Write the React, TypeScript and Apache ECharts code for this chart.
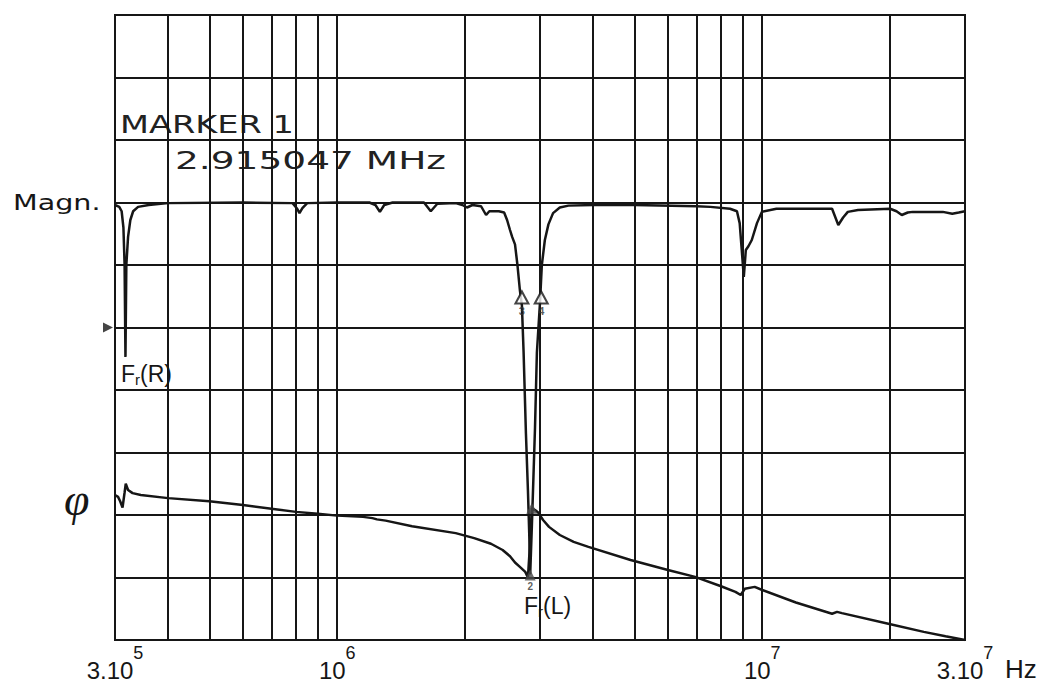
import React, { useEffect, useRef } from 'react';
import * as echarts from 'echarts';

const X_MIN = 3e5;
const X_MAX = 3e7;
const Y_MIN = 0;
const Y_MAX = 10;

const GRID_FREQS = [4e5, 5e5, 6e5, 7e5, 8e5, 9e5, 2e6, 3e6, 4e6, 5e6, 6e6, 7e6, 8e6, 9e6, 2e7];
const TICK_VALUES = [3e5, 1e6, 1e7, 3e7];
const TICK_BASES = ['3.10', '10', '10', '3.10'];
const TICK_EXPS = ['5', '6', '7', '7'];

const MAG_FREQS = [
  3.0e5, 3.07e5, 3.11e5, 3.14e5, 3.16e5, 3.175e5, 3.19e5, 3.22e5, 3.26e5, 3.31e5, 3.4e5, 3.6e5,
  4.0e5, 6.0e5, 7.85e5, 8.05e5, 8.15e5, 8.28e5, 8.5e5, 1.0e6, 1.19e6, 1.23e6, 1.26e6, 1.29e6,
  1.35e6, 1.6e6, 1.66e6, 1.72e6, 1.9e6, 1.97e6, 2.02e6, 2.08e6, 2.18e6, 2.24e6, 2.28e6, 2.4e6,
  2.47e6, 2.51e6, 2.55e6, 2.58e6, 2.62e6, 2.655e6, 2.69e6, 2.72e6, 2.745e6, 2.78e6, 2.81e6,
  2.83e6, 2.845e6, 2.87e6, 2.895e6, 2.92e6, 2.95e6, 3.0e6, 3.03e6, 3.08e6, 3.14e6, 3.22e6,
  3.34e6, 3.5e6, 4.0e6, 5.0e6, 7.0e6, 7.55e6, 8.4e6, 8.72e6, 8.85e6, 8.95e6, 9.05e6, 9.15e6,
  9.28e6, 9.45e6, 9.72e6, 9.98e6, 1.08e7, 1.46e7, 1.51e7, 1.55e7, 1.59e7, 1.68e7, 2.0e7,
  2.07e7, 2.13e7, 2.2e7, 2.26e7, 2.66e7, 2.8e7, 2.9e7, 3.0e7,
];
const MAG_VALUES = [
  6.96, 6.93, 6.86, 6.6, 6.0, 4.53, 6.0, 6.45, 6.72, 6.86, 6.93, 6.96,
  6.99, 7.0, 6.99, 6.9, 6.83, 6.91, 6.99, 7.0, 7.0, 6.96, 6.85, 6.96,
  7.0, 7.0, 6.86, 6.98, 6.99, 6.96, 6.92, 6.96, 6.94, 6.8, 6.86, 6.86,
  6.84, 6.72, 6.56, 6.45, 6.33, 6.0, 5.6, 5.35, 4.6, 3.3, 2.4,
  1.7, 1.05, 1.8, 2.6, 3.4, 4.6, 5.4, 6.0, 6.4, 6.65, 6.83,
  6.92, 6.95, 6.96, 6.96, 6.94, 6.93, 6.9, 6.86, 6.67, 6.24, 5.81, 6.24,
  6.3, 6.4, 6.67, 6.85, 6.9, 6.9, 6.64, 6.76, 6.85, 6.88, 6.9,
  6.86, 6.8, 6.84, 6.85, 6.85, 6.82, 6.84, 6.86,
];

const PHASE_FREQS = [
  3.0e5, 3.05e5, 3.085e5, 3.125e5, 3.16e5, 3.18e5, 3.22e5, 3.3e5, 3.45e5, 4.0e5, 5.0e5, 6.0e5,
  7.0e5, 8.0e5, 9.0e5, 1.0e6, 1.15e6, 1.21e6, 1.24e6, 1.3e6, 1.5e6, 1.9e6, 2.1e6, 2.3e6,
  2.45e6, 2.55e6, 2.62e6, 2.69e6, 2.77e6, 2.81e6, 2.84e6, 2.87e6, 2.92e6, 2.97e6, 3.05e6,
  3.15e6, 3.34e6, 3.6e6, 3.9e6, 4.9e6, 6.0e6, 6.95e6, 8.0e6, 8.65e6, 8.9e6, 9.1e6, 9.6e6,
  1.0e7, 1.2e7, 1.46e7, 1.5e7, 1.54e7, 1.98e7, 2.4e7, 2.7e7, 3.0e7,
];
const PHASE_VALUES = [
  2.32, 2.29, 2.22, 2.12, 2.36, 2.5, 2.4, 2.35, 2.32, 2.27, 2.22, 2.16,
  2.1, 2.05, 2.02, 1.99, 1.97, 1.95, 1.93, 1.91, 1.82, 1.71, 1.63, 1.54,
  1.44, 1.34, 1.24, 1.17, 1.09, 1.0, 1.5, 2.11, 2.08, 2.04, 1.92,
  1.81, 1.68, 1.57, 1.49, 1.28, 1.12, 1.01, 0.86, 0.77, 0.72, 0.82, 0.85,
  0.8, 0.6, 0.42, 0.45, 0.43, 0.26, 0.13, 0.06, 0.0,
];

const REF_MARKER = [3e5, 5];
const OPEN_MARKERS = [[2.72e6, 5.48, '3'], [3.02e6, 5.48, '4']];
const FILLED_MARKERS = [[2.87e6, 2.11, ''], [2.845e6, 1.04, '2']];

const INK = '#161616';

export default function App() {
  const ref = useRef<HTMLDivElement>(null);
  useEffect(() => {
    if (!ref.current) return;
    const chart = echarts.init(ref.current, null, { renderer: 'svg' });
    const mag = MAG_FREQS.map((f, i) => [f, MAG_VALUES[i]]);
    const phase = PHASE_FREQS.map((f, i) => [f, PHASE_VALUES[i]]);
    const fmt = (v: number) => {
      const i = TICK_VALUES.findIndex((t) => Math.abs(Math.log10(t) - Math.log10(v)) < 0.01);
      if (i < 0) return '';
      return `{b|${TICK_BASES[i]}}{s|${TICK_EXPS[i]}}`;
    };
    const sub = (a: string, b: string) => `{f|F}{r|r}{f|(${b})}`;
    const subRich = {
      f: { fontSize: 23, fontFamily: 'Liberation Sans', fill: INK, color: INK },
      r: { fontSize: 15, fontFamily: 'Liberation Sans', fill: INK, color: INK, padding: [12, 0, 0, 0], verticalAlign: 'bottom' },
    };
    chart.setOption({
      animation: false,
      backgroundColor: '#ffffff',
      grid: {
        left: 115,
        right: 86,
        top: 15,
        bottom: 54,
        show: true,
        borderColor: INK,
        borderWidth: 2,
        backgroundColor: 'transparent',
      },
      xAxis: {
        type: 'log',
        logBase: 10,
        min: X_MIN,
        max: X_MAX,
        axisLine: { show: false },
        axisTick: { show: false },
        splitLine: { show: true, lineStyle: { color: INK, width: 2 } },
        axisLabel: {
          show: true,
          margin: 4,
          formatter: fmt,
          rich: {
            b: { fontSize: 24, fontFamily: 'Liberation Sans', color: INK, verticalAlign: 'bottom', padding: [14, 0, 0, 0] },
            s: { fontSize: 18, fontFamily: 'Liberation Sans', color: INK, verticalAlign: 'top' },
          },
        },
      },
      yAxis: {
        type: 'value',
        min: Y_MIN,
        max: Y_MAX,
        interval: 1,
        axisLine: { show: false },
        axisTick: { show: false },
        axisLabel: { show: false },
        splitLine: { show: true, lineStyle: { color: INK, width: 2 } },
      },
      series: [
        {
          type: 'line',
          data: [],
          z: 1,
          markLine: {
            silent: true,
            symbol: ['none', 'none'],
            label: { show: false },
            lineStyle: { color: INK, width: 2, type: 'solid' },
            data: GRID_FREQS.map((f) => ({ xAxis: f })),
          },
        },
        {
          name: 'Magn.',
          type: 'line',
          data: mag,
          showSymbol: false,
          symbol: 'none',
          z: 3,
          lineStyle: { color: INK, width: 2.5 },
        },
        {
          name: 'φ',
          type: 'line',
          data: phase,
          showSymbol: false,
          symbol: 'none',
          z: 3,
          lineStyle: { color: INK, width: 2.5 },
        },
        {
          type: 'scatter',
          z: 4,
          data: [REF_MARKER],
          symbol: 'triangle',
          symbolRotate: -90,
          symbolSize: [10, 10],
          symbolOffset: [-7, 0],
          itemStyle: { color: INK },
        },
        {
          type: 'scatter',
          z: 5,
          data: OPEN_MARKERS.map((m) => [m[0], m[1]]),
          symbol: 'triangle',
          symbolSize: [13, 12],
          itemStyle: { color: '#ffffff', borderColor: INK, borderWidth: 2 },
          label: {
            show: true,
            position: 'bottom',
            distance: 1,
            fontSize: 11,
            fontWeight: 'bold',
            color: '#333',
            formatter: (p: any) => OPEN_MARKERS[p.dataIndex][2] as string,
          },
        },
        {
          type: 'scatter',
          z: 5,
          data: FILLED_MARKERS.map((m) => [m[0], m[1]]),
          symbol: 'triangle',
          symbolSize: [11, 11],
          itemStyle: { color: '#4a4a4a' },
          label: {
            show: true,
            position: 'bottom',
            distance: 1,
            fontSize: 10,
            fontWeight: 'bold',
            color: '#333',
            formatter: (p: any) => FILLED_MARKERS[p.dataIndex][2] as string,
          },
        },
      ],
      graphic: [
        {
          type: 'text',
          x: 120,
          y: 113,
          scaleX: 1.4,
          style: { text: 'MARKER 1', fontSize: 24, fontFamily: 'DejaVu Sans', fill: '#222', verticalAlign: 'top' },
        },
        {
          type: 'text',
          x: 175,
          y: 148,
          scaleX: 1.5,
          style: { text: '2.915047 MHz', fontSize: 25, fontFamily: 'DejaVu Sans', fill: '#222', verticalAlign: 'top' },
        },
        {
          type: 'text',
          x: 13,
          y: 191,
          scaleX: 1.3,
          style: { text: 'Magn.', fontSize: 22, fontFamily: 'DejaVu Sans', fill: INK, verticalAlign: 'top' },
        },
        {
          type: 'text',
          x: 64,
          y: 476,
          style: { text: 'φ', fontSize: 46, fontStyle: 'italic', fontFamily: 'Liberation Serif', fill: INK, verticalAlign: 'top' },
        },
        {
          type: 'text',
          x: 1005,
          y: 656,
          style: { text: 'Hz', fontSize: 26, fontFamily: 'Liberation Sans', fill: INK, verticalAlign: 'top' },
        },
        {
          type: 'text',
          x: 121,
          y: 360,
          style: { text: sub('F', 'R'), rich: subRich, verticalAlign: 'top' },
        },
        {
          type: 'text',
          x: 524,
          y: 592,
          style: { text: sub('F', 'L'), rich: subRich, verticalAlign: 'top' },
        },
      ],
    });
    return () => chart.dispose();
  }, []);
  return (
    <div
      ref={ref}
      style={{ position: 'fixed', left: 0, top: 0, width: 1051, height: 694, background: '#fff' }}
    />
  );
}
